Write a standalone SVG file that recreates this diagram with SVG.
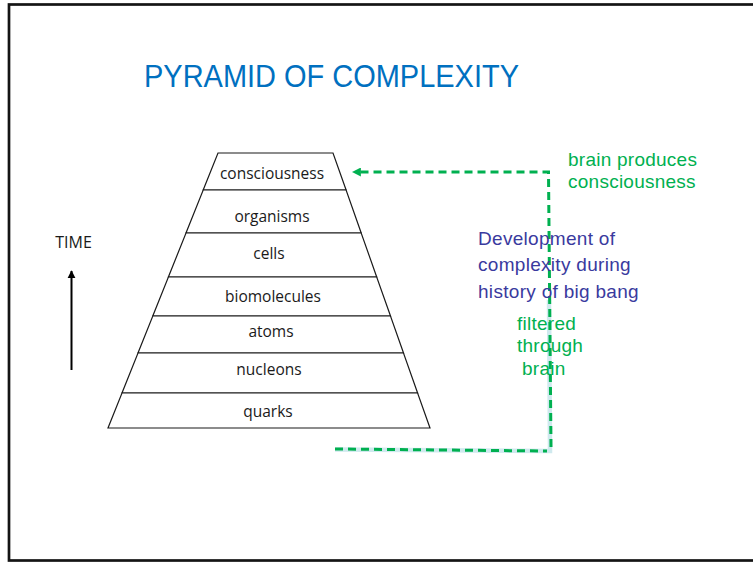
<svg xmlns="http://www.w3.org/2000/svg" width="753" height="563" viewBox="0 0 753 563">
<defs>
<style>
.band{fill:#fff;stroke:#1a1a1a;stroke-width:1.2;stroke-linejoin:miter}
.lbl{font-family:"Open Sans","Liberation Sans",sans-serif;font-size:15.5px;fill:#1a1a1a;text-anchor:middle}
.grn{font-family:"Liberation Sans",Arial,sans-serif;font-size:19px;fill:#00B050;letter-spacing:0.25px}
.blu{font-family:"Liberation Sans",Arial,sans-serif;font-size:19px;fill:#3A3A9E;letter-spacing:0.3px}
.dash{fill:none;stroke:#00B050;stroke-width:3;stroke-dasharray:8 5}
.halo{fill:none;stroke:#cfe9ee;stroke-width:4.5}
</style>
<marker id="ga" viewBox="0 0 10 10" refX="1" refY="5" markerWidth="3" markerHeight="3" orient="auto-start-reverse" markerUnits="strokeWidth">
<path d="M0,0 L10,5 L0,10 Z" fill="#00B050"/>
</marker>
<marker id="ka" viewBox="0 0 10 10" refX="9" refY="5" markerWidth="4" markerHeight="5" orient="auto" markerUnits="strokeWidth">
<path d="M0,0 L10,5 L0,10 Z" fill="#000"/>
</marker>
<linearGradient id="fade" x1="0" x2="1" y1="0" y2="0">
<stop offset="0" stop-color="#e8e8e8"/>
<stop offset="1" stop-color="#bdbdbd"/>
</linearGradient>
</defs>
<rect x="0" y="0" width="753" height="563" fill="#fff"/>
<rect id="frame" x="9" y="4.5" width="770" height="556" fill="none" stroke="#141414" stroke-width="2.7"/>

<text id="title" x="144" y="87" textLength="375" lengthAdjust="spacingAndGlyphs" font-family="'Liberation Sans',Arial,sans-serif" font-size="31" fill="#0070C0">PYRAMID OF COMPLEXITY</text>

<g id="time-axis">
<text x="73.5" y="248" font-family="'Open Sans','Liberation Sans',sans-serif" font-size="16" fill="#1a1a1a" text-anchor="middle">TIME</text>
<line x1="71.5" y1="370" x2="71.5" y2="271" stroke="#000" stroke-width="2" marker-end="url(#ka)"/>
</g>

<g id="level-consciousness">
<polygon class="band" points="218,153 333,153 346.1,190 203.2,190"/>
<text class="lbl" x="272" y="179">consciousness</text>
</g>
<g id="level-organisms">
<polygon class="band" points="203.2,190 346.1,190 361.2,233 186,233"/>
<text class="lbl" x="272" y="222">organisms</text>
</g>
<g id="level-cells">
<polygon class="band" points="186,233 361.2,233 376.7,277 168.4,277"/>
<text class="lbl" x="269" y="259">cells</text>
</g>
<g id="level-biomolecules">
<polygon class="band" points="168.4,277 376.7,277 390.5,316 152.8,316"/>
<text class="lbl" x="273" y="302">biomolecules</text>
</g>
<g id="level-atoms">
<polygon class="band" points="152.8,316 390.5,316 403.5,353 138,353"/>
<text class="lbl" x="271" y="337">atoms</text>
</g>
<g id="level-nucleons">
<polygon class="band" points="138,353 403.5,353 417.6,393 122,393"/>
<text class="lbl" x="269" y="375">nucleons</text>
</g>
<g id="level-quarks">
<polygon class="band" points="122,393 417.6,393 430,428 108,428"/>
<text class="lbl" x="268" y="417">quarks</text>
</g>

<g id="connectors">
<path class="halo" d="M335,449.5 L550,451 L549,300"/>
<path class="dash" d="M335,449 L547,451"/>
<path class="dash" d="M551,447 L548.5,172 L360,172" marker-end="url(#ga)"/>
<line x1="390" y1="464" x2="442" y2="464" stroke="url(#fade)" stroke-width="1.5"/>
</g>

<g id="note-brain">
<text class="grn" x="568" y="166">brain produces</text>
<text class="grn" x="568" y="188">consciousness</text>
</g>
<g id="note-development">
<text class="blu" x="478" y="245">Development of</text>
<text class="blu" x="478" y="271">complexity during</text>
<text class="blu" x="478" y="298">history of big bang</text>
</g>
<g id="note-filtered">
<text class="grn" x="517" y="330">filtered</text>
<text class="grn" x="517" y="352">through</text>
<text class="grn" x="522" y="375">brain</text>
</g>
</svg>
